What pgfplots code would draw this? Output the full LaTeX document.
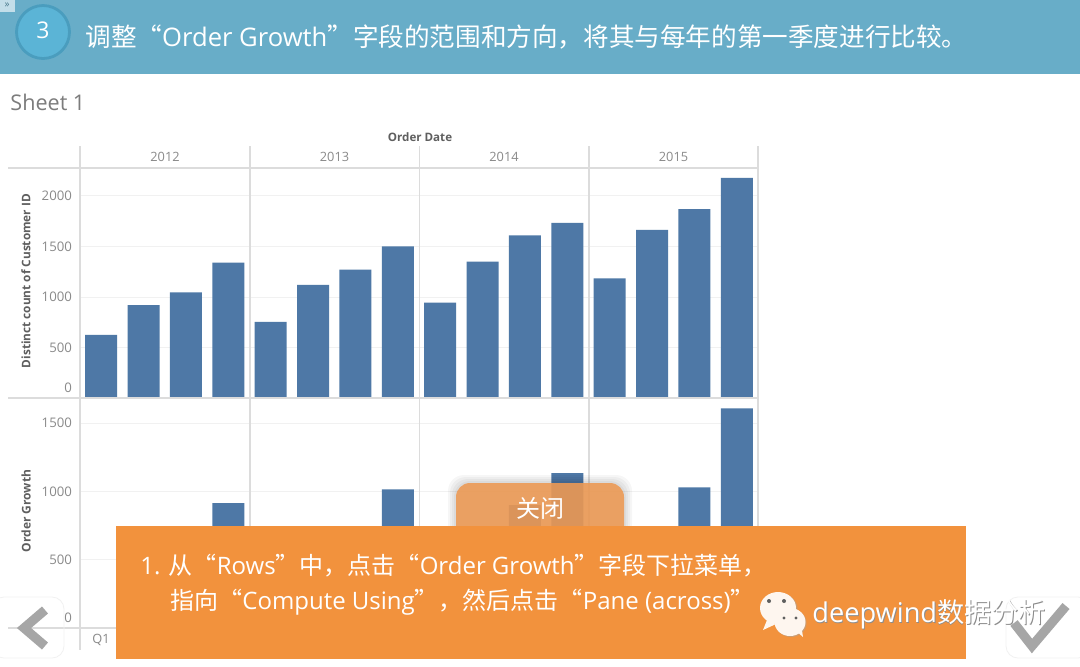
\documentclass[border=0pt]{standalone}
\usepackage{fontspec}
\usepackage{pgfplots}
\pgfplotsset{compat=1.18}
\usepackage{pgfplotstable}
\setmainfont{Open Sans}
\newfontfamily\cjk{Noto Sans CJK SC}
\definecolor{hdr}{HTML}{68ADC8}
\definecolor{circ}{HTML}{5BB4D6}
\definecolor{circd}{HTML}{4A9DBE}
\definecolor{barc}{HTML}{4E78A6}
\definecolor{org}{HTML}{F2923D}
\definecolor{btn}{HTML}{EC9A55}
\definecolor{lab}{HTML}{8A8A8A}
\definecolor{axl}{HTML}{DCDCDC}
\definecolor{grd}{HTML}{F1F1F1}
\definecolor{dk}{HTML}{5F5F5F}
\definecolor{chk}{HTML}{A6A6A6}
\pgfplotstableread{
q v
0 625
1 920
2 1045
3 1340
4 755
5 1120
6 1270
7 1500
8 945
9 1350
10 1610
11 1735
12 1185
13 1665
14 1870
15 2180
}\tabupper
\pgfplotstableread{
q v
3 915
7 1015
10 900
11 1135
14 1030
15 1610
}\tablower
\pgfplotsset{pane/.style={
  scale only axis, width=339pt, height=115pt,
  xmin=-0.5, xmax=15.5, axis line style={draw=none}, clip=true,
  xtick=\empty, tick style={draw=none},
  ymajorgrids, grid style={grd, line width=0.5pt},
  ybar, bar width=0.755, ymin=0,
  yticklabel style={font=\fontsize{6.6}{8}\selectfont, text=lab, xshift=-0.5pt},
}}
\begin{document}
\begin{tikzpicture}
\useasboundingbox (0,0) rectangle (540pt,-333pt);
\fill[white] (0,0) rectangle (540pt,-333pt);
\begin{scope}[x=0.5pt,y=-0.5pt]
\fill[hdr] (0,0) rectangle (1080,74);
\fill[white!60!hdr] (0,0) rectangle (15,12);
\node[text=hdr!70!black,font=\fontsize{5}{5}\selectfont] at (7,5) {»};
\draw[circd,fill=circ,line width=1.4pt] (43,32) circle (26.5);
\node[text=white,font=\fontsize{11.5}{12}\selectfont] at (43,30) {3};
\node[anchor=west,text=white,inner sep=0,font=\fontsize{12.8}{14}\selectfont] at (85,37)
  {{\cjk 调整“}Order Growth{\cjk ”字段的范围和方向，将其与每年的第一季度进行比较。}};
\node[anchor=west,text=lab!90!black,inner sep=0,font=\fontsize{10.8}{11}\selectfont] at (10,102) {Sheet 1};
\node[text=dk,font=\bfseries\fontsize{5.8}{6}\selectfont] at (420,137) {Order Date};
\foreach \x/\y in {165/2012,334.5/2013,504/2014,673.5/2015}
  \node[text=lab,font=\fontsize{6.4}{7}\selectfont] at (\x,157) {\y};
\node[rotate=90,text=dk,font=\bfseries\fontsize{5.9}{6}\selectfont] at (26,281) {Distinct count of Customer ID};
\node[rotate=90,text=dk,font=\bfseries\fontsize{6}{6}\selectfont] at (26,511) {Order Growth};
\node[text=lab,font=\fontsize{6.4}{7}\selectfont] at (101,640) {Q1};
\end{scope}
\begin{axis}[pane, at={(40pt,-199pt)}, anchor=south west, ymax=2277,
  ytick={0,500,1000,1500,2000},
  yticklabels={\raisebox{10pt}{0},500,1000,1500,2000}]
\addplot[fill=barc,draw=none] table[x=q,y=v]{\tabupper};
\end{axis}
\begin{axis}[pane, at={(40pt,-314pt)}, anchor=south west, ymax=1685,
  ytick={0,500,1000,1500},
  yticklabels={\raisebox{10pt}{0},500,1000,1500}]
\addplot[fill=barc,draw=none] table[x=q,y=v]{\tablower};
\end{axis}
\begin{scope}[x=0.5pt,y=-0.5pt]
% frame lines
\draw[axl,line width=0.6pt] (8,168)--(758,168) (8,398)--(758,398) (8,628)--(758,628);
\foreach \x in {80,250,419.5,589,758}
  \draw[axl,line width=0.6pt] (\x,146)--(\x,650);
% close button
\foreach \d in {8,6,4,2}
  \fill[black,opacity=0.035,rounded corners=8pt] (456-\d,483-\d) rectangle (624+\d,540);
\fill[btn,opacity=0.9,rounded corners=7pt] (456,483) rectangle (624,540);
\node[text=white,font=\cjk\fontsize{12}{13}\selectfont] at (540,508) {关闭};
% panel
\fill[org] (116,526) rectangle (966,659);
\node[anchor=west,text=white,inner sep=0,font=\fontsize{12}{12}\selectfont] at (140,566)
  {1. {\cjk 从“}Rows{\cjk ”中，点击“}Order Growth{\cjk ”字段下拉菜单，}};
\node[anchor=west,text=white,inner sep=0,font=\fontsize{12}{12}\selectfont] at (170,602)
  {{\cjk 指向“}Compute Using{\cjk ”，然后点击“}Pane (across){\cjk ”}};
% navigation
\draw[grd,line width=0.4pt,rounded corners=6pt] (-8,597) rectangle (64,658);
\draw[chk,line width=4.6pt,line join=miter] (45,610)--(24,628)--(45,646);
\draw[grd,line width=0.4pt,rounded corners=6pt] (1090,597) rectangle (1006,658);
\draw[chk,line width=4.6pt,line join=miter] (1014,623)--(1032,646)--(1066,606);
% watermark
\fill[black!35,opacity=.5] (779.5,609) ellipse (18 and 16);
\fill[white!92!org] (778,608) ellipse (18 and 16);
\fill[white!92!org] (767,620)--(763,630)--(776,624)--cycle;
\fill[black!35,opacity=.5] (791,623) ellipse (15.5 and 14);
\fill[white!92!org] (790,622) ellipse (15.5 and 14);
\fill[white!92!org] (795,630)--(803,637)--(801,624)--cycle;
\fill[dk] (769,601) circle (2) (784,601) circle (2) (784,618) circle (1.7) (796,618) circle (1.7);
\node[anchor=west,text=black!45,inner sep=0,font=\fontsize{13.6}{15}\selectfont] at (812.8,615.3) {deepwind{\cjk 数据分析}};
\node[anchor=west,text=white,inner sep=0,font=\fontsize{13.6}{15}\selectfont] at (812,614.5) {deepwind{\cjk 数据分析}};
\end{scope}
\end{tikzpicture}
\end{document}
